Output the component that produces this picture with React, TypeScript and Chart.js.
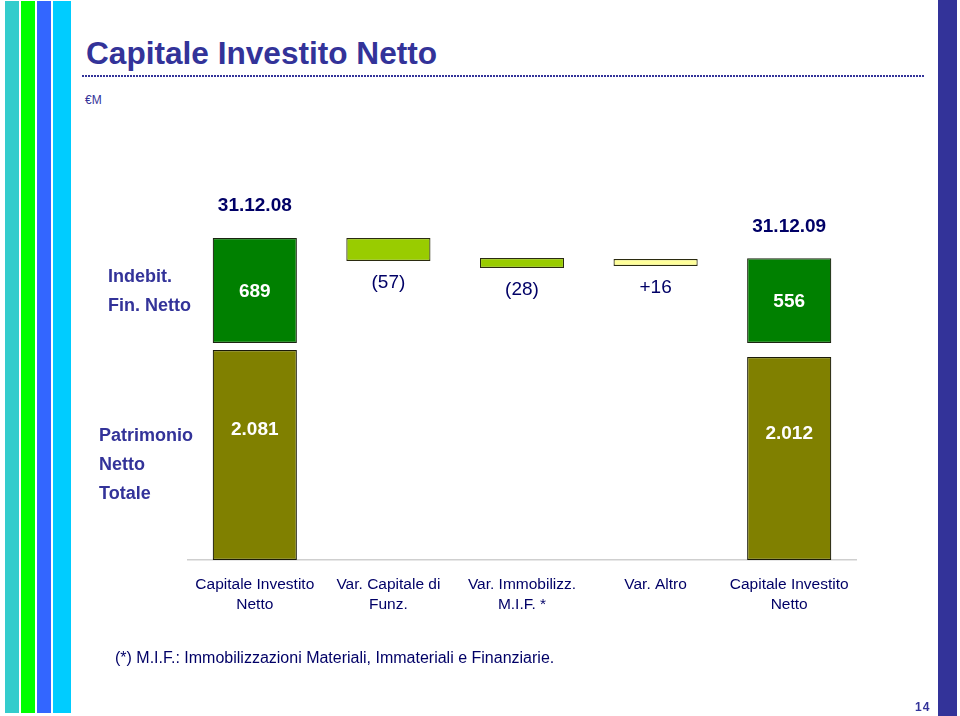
import React, { useEffect, useRef } from "react";
import { Chart, registerables } from "chart.js";

Chart.register(...registerables);

// ---- data ----
const categories: string[][] = [
  ["Capitale Investito", "Netto"],
  ["Var. Capitale di", "Funz."],
  ["Var. Immobilizz.", "M.I.F. *"],
  ["Var. Altro"],
  ["Capitale Investito", "Netto"],
];
// Indebitamento Finanziario Netto (€M)
const debtValues: (number | null)[] = [689, null, null, null, 556];
const debtLabels: string[] = ["689", "", "", "", "556"];
// Variations: floating bars (low / high, €M scale of upper panel)
const variationLow: (number | null)[] = [null, 538, 492, 505, null];
const variationHigh: (number | null)[] = [null, 689, 558, 551, null];
const variationLabels: string[] = ["", "(57)", "(28)", "+16", ""];
const variationColors: string[] = ["#99CC00", "#99CC00", "#99CC00", "#FFFF99", "#99CC00"];
// Patrimonio Netto Totale (€M)
const equityValues: (number | null)[] = [2081, null, null, null, 2012];
const equityLabels: string[] = ["2.081", "", "", "", "2.012"];
// Dates above the totals
const dateLabels: string[] = ["31.12.08", "", "", "", "31.12.09"];

const FONT = 'Arial, "Liberation Sans", Helvetica, sans-serif';
const NAVY = "#333399";
const DARK_NAVY = "#000066";

const labelPlugin = {
  id: "valueLabels",
  afterDatasetsDraw(chart: any) {
    const ctx = chart.ctx;
    ctx.save();
    ctx.textAlign = "center";
    ctx.textBaseline = "middle";
    // debt (dataset 0)
    chart.getDatasetMeta(0).data.forEach((el: any, i: number) => {
      if (debtValues[i] == null) return;
      const top = Math.min(el.y, el.base);
      const bot = Math.max(el.y, el.base);
      ctx.fillStyle = "#ffffff";
      ctx.font = `bold 19px ${FONT}`;
      ctx.fillText(debtLabels[i], el.x, (top + bot) / 2 + 1);
      if (dateLabels[i]) {
        ctx.fillStyle = DARK_NAVY;
        ctx.font = `bold 19px ${FONT}`;
        ctx.fillText(dateLabels[i], el.x, top - 32);
      }
    });
    // variations (dataset 1)
    chart.getDatasetMeta(1).data.forEach((el: any, i: number) => {
      if (variationLow[i] == null) return;
      const bot = Math.max(el.y, el.base);
      ctx.fillStyle = DARK_NAVY;
      ctx.font = `19px ${FONT}`;
      ctx.fillText(variationLabels[i], el.x, bot + 22);
    });
    // equity (dataset 2)
    chart.getDatasetMeta(2).data.forEach((el: any, i: number) => {
      if (equityValues[i] == null) return;
      const top = Math.min(el.y, el.base);
      const bot = Math.max(el.y, el.base);
      ctx.fillStyle = "#ffffff";
      ctx.font = `bold 19px ${FONT}`;
      ctx.fillText(equityLabels[i], el.x, top + (bot - top) * 0.38);
    });
    ctx.restore();
  },
};

function WaterfallChart() {
  const ref = useRef<HTMLCanvasElement | null>(null);
  useEffect(() => {
    if (!ref.current) return;
    const chart = new Chart(ref.current, {
      type: "bar",
      data: {
        labels: categories,
        datasets: [
          {
            label: "Indebit. Fin. Netto",
            data: debtValues.map((v) => (v == null ? null : [0, v])) as any,
            yAxisID: "yTop",
            backgroundColor: "#008000",
            borderColor: "#1a2410",
            borderWidth: 1.2,
            borderSkipped: false,
            grouped: false,
            barPercentage: 1,
            categoryPercentage: 0.63,
          },
          {
            label: "Variazioni",
            data: variationLow.map((lo, i) =>
              lo == null ? null : [lo, variationHigh[i] as number]
            ) as any,
            yAxisID: "yTop",
            backgroundColor: variationColors,
            borderColor: "#2b2b10",
            borderWidth: 1.2,
            borderSkipped: false,
            grouped: false,
            barPercentage: 1,
            categoryPercentage: 0.63,
          },
          {
            label: "Patrimonio Netto Totale",
            data: equityValues.map((v) => (v == null ? null : [0, v])) as any,
            yAxisID: "yBottom",
            backgroundColor: "#808000",
            borderColor: "#1a1a08",
            borderWidth: 1.2,
            borderSkipped: false,
            grouped: false,
            barPercentage: 1,
            categoryPercentage: 0.63,
          },
        ],
      },
      options: {
        responsive: false,
        animation: false,
        devicePixelRatio: 1,
        layout: { padding: { left: 188, right: 104, top: 190, bottom: 96 } },
        plugins: {
          legend: { display: false },
          tooltip: { enabled: false },
        },
        scales: {
          x: {
            type: "category",
            position: "bottom",
            grid: { display: false, drawTicks: false },
            border: { display: true, color: "#cfcfcf", width: 1.5 },
            ticks: {
              autoSkip: false,
              maxRotation: 0,
              minRotation: 0,
              padding: 15,
              color: DARK_NAVY,
              font: { family: FONT, size: 15.5, lineHeight: 1.28 },
            },
            afterFit: (scale: any) => {
              scale.height = 60;
            },
          },
          yTop: {
            type: "linear",
            position: "right",
            stack: "panels",
            stackWeight: 16,
            min: -46,
            max: 1004,
            display: false,
          },
          yBottom: {
            type: "linear",
            position: "right",
            stack: "panels",
            stackWeight: 21,
            min: 0,
            max: 2081,
            display: false,
          },
        },
      } as any,
      plugins: [labelPlugin],
    });
    return () => chart.destroy();
  }, []);
  return (
    <canvas
      ref={ref}
      width={960}
      height={716}
      style={{ position: "absolute", left: 0, top: 0, width: 960, height: 716 }}
    />
  );
}

const abs = (o: React.CSSProperties): React.CSSProperties => ({ position: "absolute", ...o });

export default function App() {
  const leftLabel: React.CSSProperties = {
    fontFamily: FONT,
    fontWeight: "bold",
    fontSize: 18,
    color: NAVY,
    lineHeight: "29px",
    whiteSpace: "nowrap",
  };
  return (
    <div
      style={{
        position: "absolute",
        left: 0,
        top: 0,
        width: 960,
        height: 716,
        background: "#ffffff",
        overflow: "hidden",
      }}
    >
      {/* decorative stripes */}
      <div style={abs({ left: 5, top: 1, width: 14, height: 712, background: "#33CCCC" })} />
      <div style={abs({ left: 21, top: 1, width: 14, height: 712, background: "#00FF00" })} />
      <div style={abs({ left: 37, top: 1, width: 14, height: 712, background: "#3366FF" })} />
      <div style={abs({ left: 53, top: 1, width: 18, height: 712, background: "#00CCFF" })} />
      <div style={abs({ left: 938, top: 0, width: 19, height: 716, background: NAVY })} />

      {/* title */}
      <div
        style={abs({
          left: 86,
          top: 33,
          fontFamily: FONT,
          fontWeight: "bold",
          fontSize: 31.6,
          lineHeight: "40px",
          color: NAVY,
          whiteSpace: "nowrap",
        })}
      >
        Capitale Investito Netto
      </div>
      <div
        style={abs({
          left: 82,
          top: 75,
          width: 842,
          height: 2,
          backgroundImage: `linear-gradient(to right, ${NAVY} 2px, transparent 2px)`,
          backgroundSize: "3px 2px",
        })}
      />
      <div
        style={abs({
          left: 85,
          top: 92,
          fontFamily: FONT,
          fontSize: 12,
          lineHeight: "16px",
          color: NAVY,
        })}
      >
        €M
      </div>

      <WaterfallChart />

      {/* row labels */}
      <div style={abs({ ...leftLabel, left: 108, top: 262 })}>
        Indebit.
        <br />
        Fin. Netto
      </div>
      <div style={abs({ ...leftLabel, left: 99, top: 421 })}>
        Patrimonio
        <br />
        Netto
        <br />
        Totale
      </div>

      {/* footnote */}
      <div
        style={abs({
          left: 115,
          top: 648,
          fontFamily: FONT,
          fontSize: 16,
          lineHeight: "20px",
          color: DARK_NAVY,
          whiteSpace: "nowrap",
        })}
      >
        (*) M.I.F.: Immobilizzazioni Materiali, Immateriali e Finanziarie.
      </div>

      {/* page number */}
      <div
        style={abs({
          left: 915,
          top: 700,
          fontFamily: FONT,
          fontWeight: "bold",
          fontSize: 12,
          lineHeight: "14px",
          color: NAVY,
          letterSpacing: 1,
        })}
      >
        14
      </div>
    </div>
  );
}
